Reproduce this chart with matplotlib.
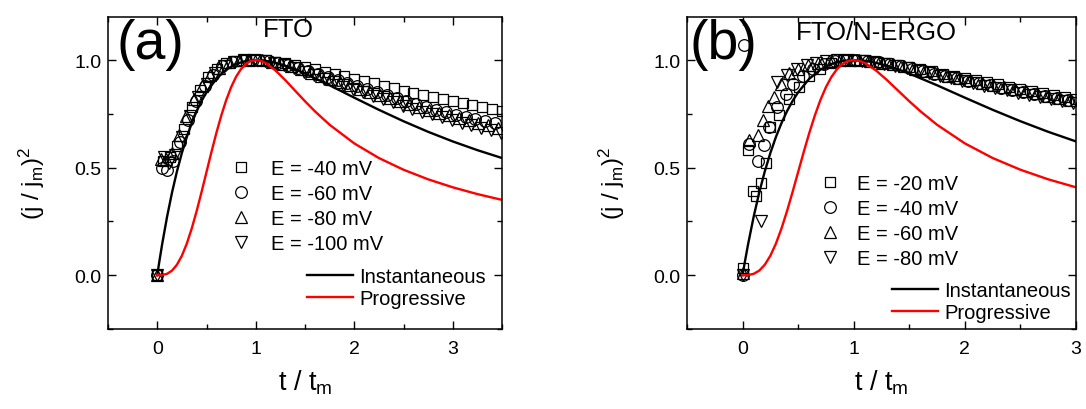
import matplotlib
matplotlib.use('Agg')
import matplotlib.pyplot as plt
from matplotlib.ticker import MultipleLocator, FormatStrFormatter

plt.rcParams['font.family'] = ['Liberation Sans', 'DejaVu Sans']
plt.rcParams['mathtext.fontset'] = 'custom'
plt.rcParams['mathtext.rm'] = 'Liberation Sans'
plt.rcParams['mathtext.it'] = 'Liberation Sans:italic'
plt.rcParams['mathtext.default'] = 'regular'

# ---------------- model curves (Scharifker-Hills) ----------------
t_inst = [0, 0.02, 0.05, 0.1, 0.15, 0.2, 0.25, 0.3, 0.35, 0.4, 0.45, 0.5, 0.6, 0.7, 0.8, 0.9,
          1.0, 1.1, 1.2, 1.3, 1.4, 1.5, 1.75, 2.0, 2.25, 2.5, 2.75, 3.0, 3.25, 3.5]
j_inst = [0, 0.0602, 0.1449, 0.2724, 0.3844, 0.4826, 0.5680, 0.6423, 0.7067, 0.7624, 0.8099,
          0.8503, 0.9129, 0.9554, 0.9819, 0.9959, 1.0, 0.9964, 0.9872, 0.9734, 0.9565, 0.9371,
          0.8827, 0.8251, 0.7687, 0.7156, 0.6664, 0.6217, 0.5812, 0.5446]
t_prog = [0, 0.05, 0.1, 0.15, 0.2, 0.25, 0.3, 0.35, 0.4, 0.45, 0.5, 0.55, 0.6, 0.65, 0.7, 0.75,
          0.8, 0.85, 0.9, 0.95, 1.0, 1.05, 1.1, 1.2, 1.3, 1.4, 1.5, 1.6, 1.75, 2.0, 2.25, 2.5,
          2.75, 3.0, 3.25, 3.5]
j_prog = [0, 0.0008, 0.0065, 0.0214, 0.0488, 0.0905, 0.1469, 0.2170, 0.2981, 0.3870, 0.4797,
          0.5723, 0.6608, 0.7421, 0.8137, 0.8739, 0.9220, 0.9580, 0.9822, 0.9957, 1.0, 0.9963,
          0.9861, 0.9518, 0.9066, 0.8574, 0.8084, 0.7620, 0.6991, 0.6126, 0.5446, 0.4902,
          0.4456, 0.4085, 0.3770, 0.3501]

# ---------------- panel (a): FTO ----------------
a_labels = ['E = -40 mV', 'E = -60 mV', 'E = -80 mV', 'E = -100 mV']
a_t40 = [0, 0.06, 0.13, 0.20, 0.27, 0.35, 0.43, 0.52, 0.61, 0.70, 0.80, 0.90,
         1.0, 1.1, 1.2, 1.3, 1.4, 1.5, 1.6, 1.7, 1.8, 1.9, 2.0, 2.1, 2.2, 2.3, 2.4, 2.5,
         2.6, 2.7, 2.8, 2.9, 3.0, 3.1, 3.2, 3.3, 3.4, 3.5]
a_j40 = [0, 0.53, 0.55, 0.60, 0.68, 0.78, 0.86, 0.92, 0.96, 0.985, 0.997, 1.0,
         1.0, 0.998, 0.993, 0.986, 0.977, 0.967, 0.957, 0.946, 0.935, 0.924, 0.913, 0.902,
         0.891, 0.880, 0.869, 0.858, 0.848, 0.838, 0.828, 0.818, 0.808, 0.799, 0.790, 0.781,
         0.772, 0.763]
a_t60 = [0, 0.05, 0.10, 0.16, 0.23, 0.31, 0.39, 0.48, 0.57, 0.66, 0.76, 0.86, 0.95,
         1.03, 1.13, 1.23, 1.33, 1.43, 1.53, 1.63, 1.73, 1.83, 1.93, 2.03, 2.13, 2.23, 2.33,
         2.43, 2.53, 2.63, 2.73, 2.83, 2.93, 3.03, 3.13, 3.23, 3.33, 3.43]
a_j60 = [0, 0.50, 0.49, 0.53, 0.62, 0.72, 0.81, 0.88, 0.93, 0.97, 0.99, 1.0, 1.0,
         0.999, 0.995, 0.987, 0.976, 0.963, 0.950, 0.936, 0.922, 0.908, 0.894, 0.880, 0.865,
         0.850, 0.836, 0.822, 0.808, 0.795, 0.782, 0.770, 0.758, 0.746, 0.736, 0.726, 0.716,
         0.706]
a_t80 = [0, 0.04, 0.09, 0.15, 0.22, 0.29, 0.37, 0.45, 0.54, 0.63, 0.73, 0.83, 0.93,
         1.06, 1.16, 1.26, 1.36, 1.46, 1.56, 1.66, 1.76, 1.86, 1.96, 2.06, 2.16, 2.26, 2.36,
         2.46, 2.56, 2.66, 2.76, 2.86, 2.96, 3.06, 3.16, 3.26, 3.36, 3.46]
a_j80 = [0, 0.54, 0.54, 0.57, 0.65, 0.74, 0.82, 0.88, 0.93, 0.965, 0.99, 0.998, 1.0,
         0.998, 0.992, 0.983, 0.971, 0.957, 0.942, 0.927, 0.912, 0.897, 0.882, 0.867, 0.852,
         0.837, 0.822, 0.808, 0.794, 0.780, 0.767, 0.755, 0.743, 0.731, 0.719, 0.708, 0.697,
         0.686]
a_t100 = [0, 0.07, 0.12, 0.18, 0.25, 0.33, 0.41, 0.50, 0.59, 0.68, 0.78, 0.88, 0.98,
          1.09, 1.19, 1.29, 1.39, 1.49, 1.59, 1.69, 1.79, 1.89, 1.99, 2.09, 2.19, 2.29, 2.39,
          2.49, 2.59, 2.69, 2.79, 2.89, 2.99, 3.09, 3.19, 3.29, 3.39, 3.49]
a_j100 = [0, 0.55, 0.52, 0.56, 0.64, 0.74, 0.83, 0.89, 0.94, 0.97, 0.99, 1.0, 1.0,
          0.995, 0.987, 0.975, 0.961, 0.946, 0.930, 0.914, 0.898, 0.882, 0.866, 0.850, 0.834,
          0.818, 0.803, 0.788, 0.774, 0.760, 0.747, 0.734, 0.721, 0.708, 0.696, 0.685, 0.674,
          0.663]

# ---------------- panel (b): FTO/N-ERGO ----------------
b_labels = ['E = -20 mV', 'E = -40 mV', 'E = -60 mV', 'E = -80 mV']
b_t20 = [0, 0.046, 0.09, 0.12, 0.165, 0.21, 0.25, 0.33, 0.42, 0.51, 0.60, 0.70, 0.80, 0.90,
         1.0, 1.1, 1.2, 1.3, 1.4, 1.5, 1.6, 1.7, 1.8, 1.9, 2.0, 2.1, 2.2, 2.3, 2.4, 2.5,
         2.6, 2.7, 2.8, 2.9, 3.0]
b_j20 = [0.035, 0.58, 0.39, 0.37, 0.43, 0.52, 0.69, 0.745, 0.82, 0.875, 0.925, 0.96, 0.985,
         0.998, 1.0, 0.998, 0.993, 0.986, 0.977, 0.967, 0.957, 0.947, 0.937, 0.927, 0.917,
         0.907, 0.897, 0.887, 0.877, 0.867, 0.857, 0.847, 0.837, 0.827, 0.817]
b_t40 = [0, 0.01, 0.06, 0.135, 0.195, 0.24, 0.31, 0.39, 0.45, 0.54, 0.63, 0.73, 0.83, 0.93,
         1.025, 1.125, 1.225, 1.325, 1.425, 1.525, 1.625, 1.725, 1.825, 1.925, 2.025, 2.125,
         2.225, 2.325, 2.425, 2.525, 2.625, 2.725, 2.825, 2.925]
b_j40 = [0, 1.07, 0.61, 0.53, 0.605, 0.69, 0.78, 0.84, 0.89, 0.925, 0.96, 0.98, 0.995, 1.0,
         0.999, 0.995, 0.989, 0.980, 0.970, 0.959, 0.948, 0.937, 0.926, 0.915, 0.904, 0.893,
         0.882, 0.872, 0.862, 0.852, 0.842, 0.832, 0.822, 0.812]
b_t60 = [0, 0.06, 0.135, 0.18, 0.225, 0.285, 0.345, 0.42, 0.50, 0.59, 0.68, 0.78, 0.88, 0.97,
         1.05, 1.15, 1.25, 1.35, 1.45, 1.55, 1.65, 1.75, 1.85, 1.95, 2.05, 2.15, 2.25, 2.35,
         2.45, 2.55, 2.65, 2.75, 2.85, 2.95]
b_j60 = [0.01, 0.63, 0.65, 0.72, 0.785, 0.83, 0.89, 0.94, 0.96, 0.975, 0.988, 0.996, 1.0, 1.0,
         0.998, 0.994, 0.988, 0.980, 0.970, 0.960, 0.949, 0.938, 0.927, 0.916, 0.905, 0.895,
         0.885, 0.875, 0.865, 0.855, 0.845, 0.835, 0.825, 0.815]
b_t80 = [0, 0.165, 0.31, 0.40, 0.49, 0.58, 0.66, 0.75, 0.85, 0.95,
         1.075, 1.175, 1.275, 1.375, 1.475, 1.575, 1.675, 1.775, 1.875, 1.975, 2.075, 2.175,
         2.275, 2.375, 2.475, 2.575, 2.675, 2.775, 2.875, 2.975]
b_j80 = [0.0, 0.25, 0.90, 0.93, 0.96, 0.975, 0.985, 0.995, 1.0, 1.0,
         0.997, 0.991, 0.983, 0.973, 0.962, 0.951, 0.939, 0.927, 0.915, 0.903, 0.892, 0.881,
         0.870, 0.859, 0.848, 0.838, 0.828, 0.818, 0.808, 0.798]

markers = ['s', 'o', '^', 'v']
msizes = [7.2, 8.4, 9.0, 9.0]

fig = plt.figure(figsize=(10.86, 4.10), dpi=100)
axA = fig.add_axes([108 / 1086, 80 / 410, 394 / 1086, 312 / 410])
axB = fig.add_axes([687 / 1086, 80 / 410, 389 / 1086, 312 / 410])


def style(ax, xmax):
    ax.set_xlim(-0.5, xmax)
    ax.set_ylim(-0.25, 1.2)
    ax.xaxis.set_major_locator(MultipleLocator(1))
    ax.xaxis.set_minor_locator(MultipleLocator(0.5))
    ax.yaxis.set_major_locator(MultipleLocator(0.5))
    ax.yaxis.set_minor_locator(MultipleLocator(0.25))
    ax.yaxis.set_major_formatter(FormatStrFormatter('%.1f'))
    ax.tick_params(which='both', direction='in', top=True, right=True, width=1.0,
                   labelsize=14)
    ax.tick_params(which='major', length=6)
    ax.tick_params(which='minor', length=3.5)
    ax.tick_params(axis='x', pad=8)
    ax.tick_params(axis='y', pad=4.5)
    for s in ax.spines.values():
        s.set_linewidth(1.1)
    ax.set_xlabel('t / t$_\\mathrm{m}$', fontsize=19.5)
    ax.set_ylabel('(j / j$_\\mathrm{m}$)$^2$', fontsize=17.5)
    ax.xaxis.set_label_coords(0.5, -0.125)
    ax.yaxis.set_label_coords(-0.155, 0.47)


def draw(ax, series, labels, mleg_pos, mleg_pad, lleg_pos):
    handles = []
    for (t, j), m, ms, lab in zip(series, markers, msizes, labels):
        h, = ax.plot(t, j, ls='none', marker=m, ms=ms, mfc='none', mec='black',
                     mew=0.9, label=lab)
        handles.append(h)
    li, = ax.plot(t_inst, j_inst, color='black', lw=1.7, label='Instantaneous')
    lp, = ax.plot(t_prog, j_prog, color='#ff0000', lw=1.7, label='Progressive')
    leg1 = ax.legend(handles=handles, loc='upper left', bbox_to_anchor=mleg_pos,
                     frameon=False, fontsize=14.5, handlelength=1.0,
                     handletextpad=mleg_pad, labelspacing=0.3, borderpad=0,
                     borderaxespad=0)
    ax.add_artist(leg1)
    ax.legend(handles=[li, lp], loc='upper left', bbox_to_anchor=lleg_pos,
              frameon=False, fontsize=14.5, handlelength=2.3, handletextpad=0.3,
              labelspacing=0.18, borderpad=0, borderaxespad=0)


style(axA, 3.5)
style(axB, 3.0)

draw(axA, [(a_t40, a_j40), (a_t60, a_j60), (a_t80, a_j80), (a_t100, a_j100)], a_labels,
     (0.312, 0.545), 1.0, (0.505, 0.200))
draw(axB, [(b_t20, b_j20), (b_t40, b_j40), (b_t60, b_j60), (b_t80, b_j80)], b_labels,
     (0.342, 0.496), 0.85, (0.527, 0.155))

axA.text(0.022, 0.912, '(a)', transform=axA.transAxes, fontsize=40, va='center', ha='left')
axA.text(0.457, 0.962, 'FTO', transform=axA.transAxes, fontsize=18.5, va='center',
         ha='center')
axB.text(0.006, 0.912, '(b)', transform=axB.transAxes, fontsize=40, va='center', ha='left')
axB.text(0.488, 0.952, 'FTO/N-ERGO', transform=axB.transAxes, fontsize=18.5, va='center',
         ha='center')

fig.savefig('out.png', dpi=100)
